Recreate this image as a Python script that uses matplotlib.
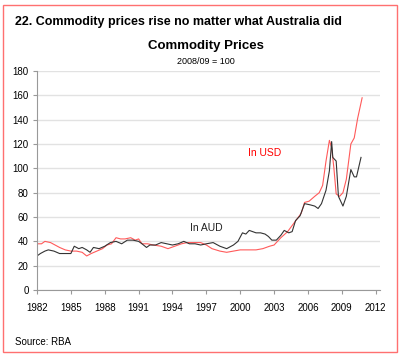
import numpy as np
import matplotlib.pyplot as plt
from matplotlib.patches import Rectangle

plt.rcParams['font.family'] = ['Liberation Sans', 'DejaVu Sans']

# AUD series (year, index)
aud_years = [1982.0, 1982.3, 1982.7, 1983.0, 1983.5, 1984.0, 1984.5, 1985.0, 1985.3, 1985.7,
             1986.0, 1986.4, 1986.7, 1987.0, 1987.5, 1988.0, 1988.5, 1989.0, 1989.5, 1990.0,
             1990.5, 1991.0, 1991.3, 1991.7, 1992.0, 1992.5, 1993.0, 1993.5, 1994.0, 1994.5,
             1995.0, 1995.5, 1996.0, 1996.5, 1997.0, 1997.6, 1998.2, 1998.8, 1999.4, 1999.8,
             2000.2, 2000.5, 2000.8, 2001.1, 2001.4, 2001.8, 2002.2, 2002.5, 2002.8, 2003.2,
             2003.6, 2003.9, 2004.3, 2004.6, 2004.9, 2005.3, 2005.7, 2006.2, 2006.6, 2006.9,
             2007.2, 2007.6, 2007.9, 2008.1, 2008.2, 2008.5, 2008.7, 2009.1, 2009.4, 2009.8,
             2010.1, 2010.3, 2010.7]
aud_vals = [28, 30, 32, 33, 32, 30, 30, 30, 36, 34,
            35, 33, 31, 35, 34, 36, 39, 40, 38, 41,
            41, 40, 38, 35, 37, 37, 39, 38, 37, 38,
            40, 38, 38, 37, 38, 39, 36, 34, 37, 40,
            47, 46, 49, 48, 47, 47, 46, 44, 41, 41,
            45, 49, 47, 48, 57, 61, 71, 70, 69, 67,
            71, 82, 98, 122, 109, 106, 77, 69, 77, 99,
            93, 93, 109]

# USD series
usd_years = [1982.0, 1982.4, 1982.7, 1983.2, 1983.6, 1984.0, 1984.5, 1985.0, 1985.5, 1986.0,
             1986.4, 1986.8, 1987.3, 1987.8, 1988.2, 1988.6, 1989.0, 1989.4, 1989.8, 1990.3,
             1990.7, 1991.0, 1991.3, 1991.8, 1992.3, 1993.0, 1993.6, 1994.2, 1994.8, 1995.3,
             1996.0, 1996.5, 1997.0, 1997.5, 1998.2, 1998.8, 1999.4, 2000.0, 2000.7, 2001.4,
             2002.0, 2002.6, 2003.0, 2003.6, 2004.2, 2004.6, 2005.0, 2005.4, 2005.7, 2006.1,
             2006.6, 2007.0, 2007.3, 2007.6, 2007.9, 2008.1, 2008.3, 2008.5, 2008.8, 2009.1,
             2009.4, 2009.8, 2010.1, 2010.4, 2010.8]
usd_vals = [38, 38, 40, 39, 37, 35, 33, 32, 32, 31,
            28, 30, 32, 34, 37, 38, 43, 42, 42, 43,
            41, 42, 38, 38, 37, 36, 34, 36, 38, 39,
            39, 39, 37, 34, 32, 31, 32, 33, 33, 33,
            34, 36, 37, 43, 48, 53, 58, 63, 72, 73,
            77, 80, 86, 106, 123, 117, 100, 79, 77, 80,
            91, 120, 125, 141, 158]

xticks = list(range(1982, 2013, 3))
yticks = list(range(0, 181, 20))

fig = plt.figure(figsize=(4, 3.55), dpi=100)
ax = fig.add_axes([0.0925, 0.183, 0.858, 0.617])

ax.plot(usd_years, usd_vals, color='#ff5a5a', lw=0.8)
ax.plot(aud_years, aud_vals, color='#333333', lw=0.8)

ax.set_xlim(1982, 2012.4)
ax.set_ylim(0, 180)
ax.set_xticks(xticks)
ax.set_yticks(yticks)
ax.tick_params(labelsize=7, length=3, color='#999999', width=0.8, pad=6)
ax.tick_params(axis='y', pad=3)
ax.grid(axis='y', color='#e2e2e2', lw=1)
ax.set_axisbelow(True)
for s in ['top', 'right']:
    ax.spines[s].set_visible(False)
for s in ['left', 'bottom']:
    ax.spines[s].set_color('#999999')
    ax.spines[s].set_linewidth(0.8)

ax.text(2002.2, 113, 'In USD', color='#ff0000', fontsize=7.5, ha='center', va='center')
ax.text(1997.0, 51, 'In AUD', color='#222222', fontsize=7.5, ha='center', va='center')

fig.text(15 / 400, 1 - 22 / 355, '22. Commodity prices rise no matter what Australia did',
         fontsize=9, fontweight='bold', ha='left', va='center')
fig.text(206 / 400, 1 - 46 / 355, 'Commodity Prices', fontsize=9.5, fontweight='bold',
         ha='center', va='center')
fig.text(206 / 400, 1 - 62 / 355, '2008/09 = 100', fontsize=6.5, ha='center', va='center')
fig.text(15 / 400, 1 - 342 / 355, 'Source: RBA', fontsize=7, ha='left', va='center')

fig.patches.append(Rectangle((3 / 400, 3 / 355), 394 / 400, 347 / 355, transform=fig.transFigure,
                             fill=False, edgecolor='#ff7070', lw=1))

fig.savefig('out.png', dpi=100)
